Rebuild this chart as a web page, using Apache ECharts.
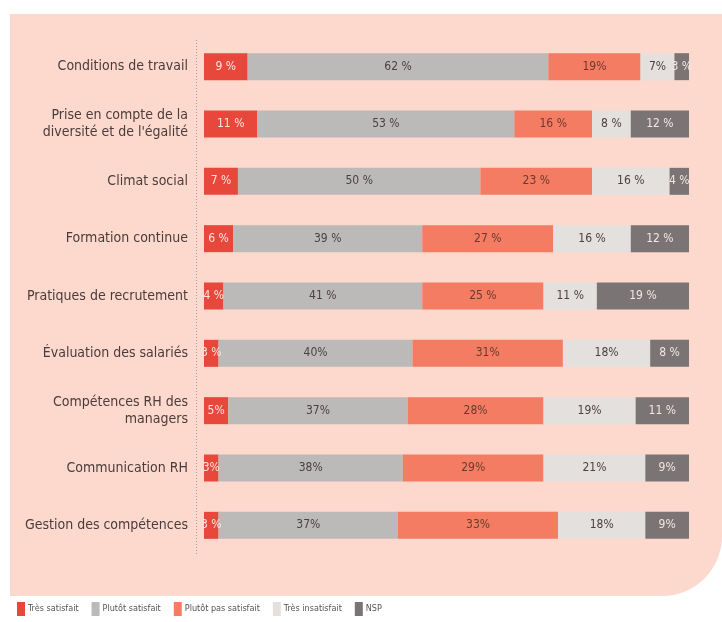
<!DOCTYPE html>
<html><head><meta charset="utf-8">
<script src="https://cdn.jsdelivr.net/npm/echarts@6/dist/echarts.min.js"></script>
<style>html,body{margin:0;padding:0;background:#fff}#c{width:722px;height:622px}</style>
</head><body><div id="c"></div>
<script>
const categories = ["Conditions de travail","Prise en compte de la\ndiversité et de l'égalité","Climat social","Formation continue","Pratiques de recrutement","Évaluation des salariés","Compétences RH des\nmanagers","Communication RH","Gestion des compétences"];
const seriesNames = ["Très satisfait","Plutôt satisfait","Plutôt pas satisfait","Très insatisfait","NSP"];
const tresSatisfait = [9,11,7,6,4,3,5,3,3];
const plutotSatisfait = [62,53,50,39,41,40,37,38,37];
const plutotPasSatisfait = [19,16,23,27,25,31,28,29,33];
const tresInsatisfait = [7,8,16,16,11,18,19,21,18];
const nsp = [3,12,4,12,19,8,11,9,9];
const labelsTresSatisfait = ["9 %","11 %","7 %","6 %","4 %","3 %","5%","3%","3 %"];
const labelsPlutotSatisfait = ["62 %","53 %","50 %","39 %","41 %","40%","37%","38%","37%"];
const labelsPlutotPasSatisfait = ["19%","16 %","23 %","27 %","25 %","31%","28%","29%","33%"];
const labelsTresInsatisfait = ["7%","8 %","16 %","16 %","11 %","18%","19%","21%","18%"];
const labelsNsp = ["3 %","12 %","4 %","12 %","19 %","8 %","11 %","9%","9%"];

const values = [tresSatisfait, plutotSatisfait, plutotPasSatisfait, tresInsatisfait, nsp];
const labels = [labelsTresSatisfait, labelsPlutotSatisfait, labelsPlutotPasSatisfait, labelsTresInsatisfait, labelsNsp];
const colors = ["#e8473b","#bcbab8","#f37c62","#e4e0de","#7a7574"];
const textColors = ["#fbe6e0","#4a4242","#6a3a30","#4a4242","#f0e6e4"];
const FONT = "DejaVu Sans Condensed";

const chart = echarts.init(document.getElementById('c'), null, {renderer:'canvas'});
chart.setOption({
  animation:false,
  backgroundColor:'#ffffff',
  graphic:[
    {type:'rect', z:-10, shape:{x:10,y:14,width:712,height:582,r:[0,0,60,0]}, style:{fill:'#fcd9cc'}},
    {type:'line', z:5, shape:{x1:196.5,y1:40,x2:196.5,y2:556}, style:{stroke:'#a8a09e',lineWidth:1,lineDash:[1,2]}}
  ],
  grid:{left:204,right:33,top:38,bottom:68,containLabel:false},
  legend:{left:12,bottom:1,itemWidth:8,itemHeight:14,itemGap:13,icon:'rect',
    textStyle:{fontFamily:FONT,fontSize:9,color:'#555',padding:[0,0,0,-2]},
    data:seriesNames},
  xAxis:{type:'value',min:0,max:100,show:false},
  yAxis:{type:'category',inverse:true,data:categories,
    axisLine:{show:false},
    axisTick:{show:false},
    axisLabel:{fontFamily:FONT,fontSize:14,color:'#4a3c3c',lineHeight:17,margin:16}},
  series: seriesNames.map((n,i)=>({
    name:n,type:'bar',stack:'t',barWidth:27,
    itemStyle:{color:colors[i]},
    label:{show:true,position:'inside',fontFamily:FONT,fontSize:12,color:textColors[i],
      formatter:p=>labels[i][p.dataIndex]},
    data:values[i]
  }))
});
</script></body></html>
